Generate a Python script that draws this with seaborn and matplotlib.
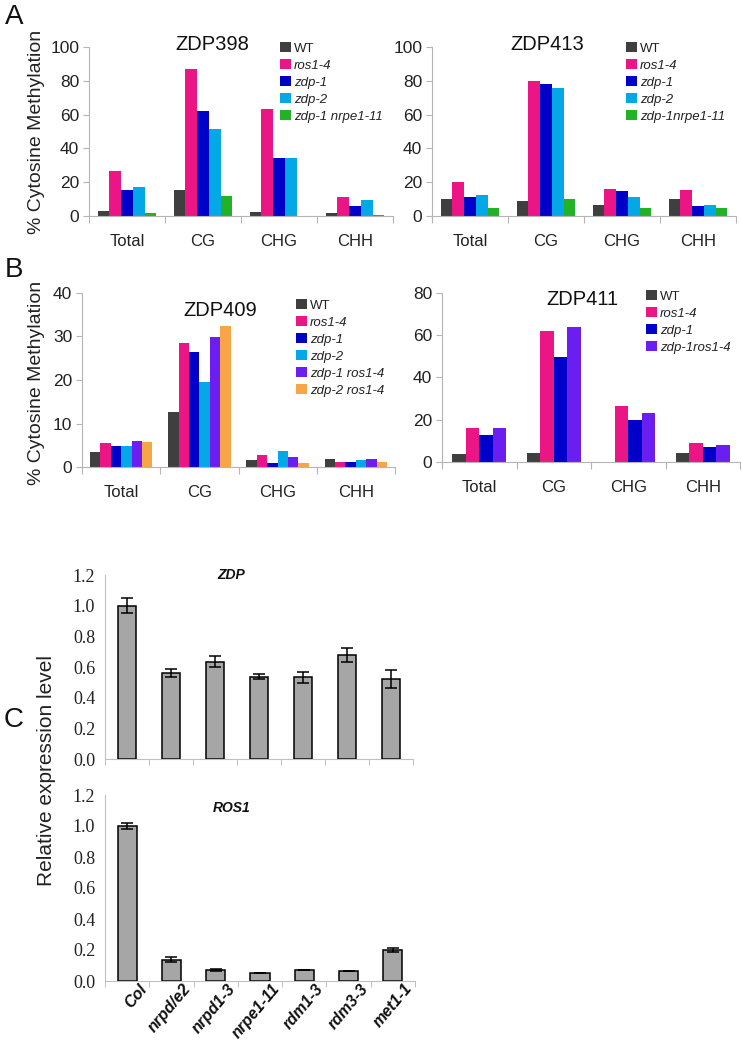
import numpy as np
import pandas as pd
import matplotlib
matplotlib.use("Agg")
import matplotlib.pyplot as plt
import matplotlib.transforms as mtransforms
import seaborn as sns

# ---------------------------------------------------------------------------
# datos
# ---------------------------------------------------------------------------
contextos = ["Total", "CG", "CHG", "CHH"]

# A - ZDP398
zdp398_genotipos = ["WT", "ros1-4", "zdp-1", "zdp-2", "zdp-1 nrpe1-11"]
zdp398_wt = [3.1, 15.4, 2.4, 1.6]
zdp398_ros14 = [26.6, 87.0, 63.6, 11.2]
zdp398_zdp1 = [15.4, 62.0, 34.6, 5.7]
zdp398_zdp2 = [16.9, 51.6, 34.6, 9.4]
zdp398_zdp1_nrpe = [1.6, 12.0, 0.0, 0.6]

# A - ZDP413
zdp413_genotipos = ["WT", "ros1-4", "zdp-1", "zdp-2", "zdp-1nrpe1-11"]
zdp413_wt = [9.8, 8.9, 6.5, 9.8]
zdp413_ros14 = [20.3, 79.7, 16.1, 15.4]
zdp413_zdp1 = [11.4, 78.1, 14.8, 5.9]
zdp413_zdp2 = [12.4, 75.8, 11.4, 6.5]
zdp413_zdp1_nrpe = [4.9, 9.8, 4.9, 4.9]

# B - ZDP409
zdp409_genotipos = ["WT", "ros1-4", "zdp-1", "zdp-2", "zdp-1 ros1-4", "zdp-2 ros1-4"]
zdp409_wt = [3.5, 12.6, 1.5, 1.8]
zdp409_ros14 = [5.5, 28.6, 2.8, 1.2]
zdp409_zdp1 = [4.8, 26.5, 0.9, 1.2]
zdp409_zdp2 = [4.8, 19.5, 3.7, 1.5]
zdp409_zdp1_ros = [6.0, 29.8, 2.2, 1.8]
zdp409_zdp2_ros = [5.8, 32.4, 0.9, 1.2]

# B - ZDP411
zdp411_genotipos = ["WT", "ros1-4", "zdp-1", "zdp-1ros1-4"]
zdp411_wt = [3.6, 4.3, 0.0, 4.4]
zdp411_ros14 = [16.2, 61.8, 26.5, 8.9]
zdp411_zdp1 = [12.7, 49.6, 19.8, 7.1]
zdp411_zdp1_ros = [16.2, 63.7, 23.1, 8.2]

# C - expresion relativa
lineas = ["Col", "nrpd/e2", "nrpd1-3", "nrpe1-11", "rdm1-3", "rdm3-3", "met1-1"]
zdp_expr = [1.00, 0.56, 0.635, 0.538, 0.532, 0.677, 0.521]
zdp_err = [0.047, 0.026, 0.035, 0.015, 0.038, 0.045, 0.057]
ros1_expr = [1.00, 0.138, 0.073, 0.052, 0.073, 0.067, 0.203]
ros1_err = [0.022, 0.016, 0.007, 0.0, 0.0, 0.0, 0.013]

colores = ["#3f3f3f", "#ec1585", "#0000c8", "#05a8e6", "#21b226", "#6a1ff0", "#f8a548"]

# ---------------------------------------------------------------------------
W, H = 742, 1049
sns.set_theme(style="white")
plt.rcParams["font.family"] = ["Liberation Sans", "DejaVu Sans"]
fig = plt.figure(figsize=(W / 100, H / 100), dpi=100)


def eje(x0, x1, ytop, ybot):
    # coordenadas en pixeles de la imagen -> fraccion de figura
    return fig.add_axes([x0 / W, 1 - ybot / H, (x1 - x0) / W, (ybot - ytop) / H])


def panel_metilacion(ax, genotipos, series, ymax, paso, titulo, tit_xy, leg_xy):
    filas = []
    for g, vals in zip(genotipos, series):
        for c, v in zip(contextos, vals):
            filas.append({"contexto": c, "genotipo": g, "valor": v})
    df = pd.DataFrame(filas)
    n = len(genotipos)
    if n == 4:
        paleta = [colores[0], colores[1], colores[2], colores[5]]
    elif n == 5:
        paleta = colores[:5]
    else:
        paleta = colores[:4] + [colores[5], colores[6]]
    sns.barplot(data=df, x="contexto", y="valor", hue="genotipo", hue_order=genotipos,
                order=contextos, palette=paleta, width=n / (n + 1.5), saturation=1,
                linewidth=0, ax=ax)
    ax.set_xlim(-0.5, 3.5)
    ax.set_ylim(0, ymax)
    ax.set_yticks(np.arange(0, ymax + 1, paso))
    ax.set_xticks(np.arange(-0.5, 4, 1), minor=True)
    ax.tick_params(axis="x", which="major", length=0, pad=13, labelsize=12, colors="#222222")
    ax.tick_params(axis="x", which="minor", length=5, width=0.8, color="#b5b5b5", direction="out", bottom=True)
    ax.tick_params(axis="y", length=4, width=0.8, color="#b5b5b5", direction="out", left=True,
                   labelsize=12.5, labelcolor="#222222", pad=3)
    for s in ["top", "right"]:
        ax.spines[s].set_visible(False)
    for s in ["left", "bottom"]:
        ax.spines[s].set_color("#b5b5b5")
        ax.spines[s].set_linewidth(0.8)
    ax.set_xlabel("")
    ax.set_ylabel("")
    ax.patch.set_alpha(0)
    fig.text(tit_xy[0] / W, 1 - tit_xy[1] / H, titulo, fontsize=14.5, ha="center", va="center", color="#111111")

    handles, labels = ax.get_legend_handles_labels()
    ax.get_legend().remove()
    leg = fig.legend(handles, labels, loc="upper left",
                     bbox_to_anchor=(leg_xy[0] / W, 1 - leg_xy[1] / H),
                     frameon=False, fontsize=9.5, handlelength=0.8, handleheight=0.8,
                     handletextpad=0.25, labelspacing=0.33, borderaxespad=0, borderpad=0)
    for t in leg.get_texts():
        if t.get_text() != "WT":
            t.set_style("italic")
        t.set_color("#222222")


# A
axA1 = eje(89, 393, 47, 216)
panel_metilacion(axA1, zdp398_genotipos,
                 [zdp398_wt, zdp398_ros14, zdp398_zdp1, zdp398_zdp2, zdp398_zdp1_nrpe],
                 100, 20, "ZDP398", (212, 44), (280, 42))
axA2 = eje(432, 736, 47, 216)
panel_metilacion(axA2, zdp413_genotipos,
                 [zdp413_wt, zdp413_ros14, zdp413_zdp1, zdp413_zdp2, zdp413_zdp1_nrpe],
                 100, 20, "ZDP413", (547, 44), (626, 42))

# B
axB1 = eje(82, 395, 293, 467)
panel_metilacion(axB1, zdp409_genotipos,
                 [zdp409_wt, zdp409_ros14, zdp409_zdp1, zdp409_zdp2, zdp409_zdp1_ros, zdp409_zdp2_ros],
                 40, 10, "ZDP409", (220, 310), (296, 299))
axB2 = eje(442, 740, 293, 462)
panel_metilacion(axB2, zdp411_genotipos,
                 [zdp411_wt, zdp411_ros14, zdp411_zdp1, zdp411_zdp1_ros],
                 80, 20, "ZDP411", (582, 300), (646, 290))

fig.text(37 / W, 1 - 132 / H, "% Cytosine Methylation", rotation=90, fontsize=14,
         ha="center", va="center", color="#222222")
fig.text(37 / W, 1 - 383 / H, "% Cytosine Methylation", rotation=90, fontsize=14,
         ha="center", va="center", color="#222222")


# C
def panel_expresion(ax, valores, errores, titulo, tit_y, etiquetas):
    df = pd.DataFrame({"linea": lineas, "valor": valores})
    sns.barplot(data=df, x="linea", y="valor", order=lineas, color="#a6a6a6", saturation=1,
                width=0.43, edgecolor="black", linewidth=1.1, ax=ax)
    ax.errorbar(np.arange(len(lineas)), valores, yerr=errores, fmt="none",
                ecolor="black", elinewidth=1.1, capsize=4, capthick=1.1)
    ax.set_xlim(-0.5, len(lineas) - 0.5)
    ax.set_ylim(0, 1.2)
    ax.set_yticks(np.arange(0, 1.21, 0.2))
    ax.yaxis.set_major_formatter(matplotlib.ticker.FormatStrFormatter("%.1f"))
    ax.set_xticks(np.arange(-0.5, len(lineas), 1), minor=True)
    ax.tick_params(axis="x", which="minor", length=4, width=0.7, color="#c0c0c0", direction="out", bottom=True)
    # letra serif (tipo Times) para los numeros del eje y
    ax.tick_params(axis="y", length=0, pad=7, labelsize=13, labelcolor="#222222",
                   labelfontfamily=["Liberation Serif", "DejaVu Serif", "serif"])
    if etiquetas:
        ax.set_xticks(np.arange(len(lineas)))
        ax.set_xticklabels(lineas, rotation=50, ha="right", rotation_mode="anchor",
                           fontsize=11.5, fontweight="bold", fontstyle="italic", color="#111111")
        ax.tick_params(axis="x", which="major", length=0, pad=3)
        desplazo = mtransforms.ScaledTranslation(0.11, 0.04, fig.dpi_scale_trans)
        for t in ax.get_xticklabels():
            t.set_transform(t.get_transform() + desplazo)
    else:
        ax.set_xticks([])
    for s in ["top", "right"]:
        ax.spines[s].set_visible(False)
    for s in ["left", "bottom"]:
        ax.spines[s].set_color("#c0c0c0")
        ax.spines[s].set_linewidth(0.8)
    ax.set_xlabel("")
    ax.set_ylabel("")
    ax.text(0.41, tit_y, titulo, transform=ax.transAxes, fontsize=10, fontweight="bold",
            fontstyle="italic", ha="center", va="center", color="#111111")


axC1 = eje(105, 413, 575, 759)
panel_expresion(axC1, zdp_expr, zdp_err, "ZDP", 1.0, False)
axC2 = eje(105, 415, 795, 981)
panel_expresion(axC2, ros1_expr, ros1_err, "ROS1", 0.93, True)
fig.text(47 / W, 1 - 770 / H, "Relative expression level", rotation=90, fontsize=15,
         ha="center", va="center", color="#222222")

# letras de panel
for letra, y in [("A", 17), ("B", 270), ("C", 720)]:
    fig.text(14 / W, 1 - y / H, letra, fontsize=20, ha="center", va="center", color="#111111")

fig.savefig("out.png", dpi=100)
